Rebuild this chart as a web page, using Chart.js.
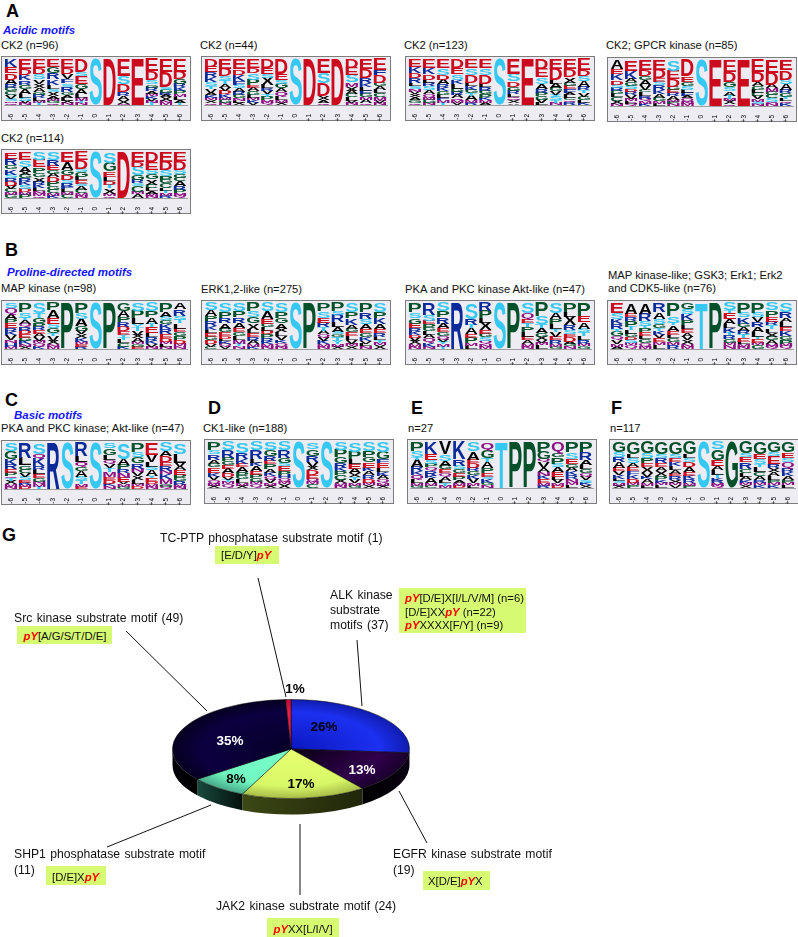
<!DOCTYPE html>
<html lang="en">
<head>
<meta charset="UTF-8">
<title>Phosphorylation motifs</title>
<script src="https://cdn.jsdelivr.net/npm/chart.js"></script>
<style>
    html, body { margin: 0; padding: 0; background: #fff; }
    #page { position: relative; width: 798px; height: 937px; overflow: hidden; font-family: "Liberation Sans", Arial, sans-serif; color: #111; }
    #page canvas { position: absolute; }
    .panel { position: absolute; box-sizing: border-box; background: #edecf2; border: 1.5px solid #7c7c7c; }
    .txt { position: absolute; white-space: nowrap; font-size: 11.2px; line-height: 12px; }
    .big { font-size: 18px; line-height: 18px; font-weight: bold; color: #000; }
    .head { font-size: 11.5px; font-weight: bold; font-style: italic; color: #1414ff; }
    .lab { font-size: 12.2px; word-spacing: 1px; line-height: 14px; }
    .mot { font-size: 11.3px; }
    .box { position: absolute; background: #d6fb72; }
    .pct { position: absolute; font-size: 13.5px; font-weight: bold; line-height: 14px; transform: translate(-50%, -50%); }
    .py { color: #f00; font-weight: bold; font-style: italic; }
    svg { position: absolute; left: 0; top: 0; }
</style>
</head>
<body>
<div id="page"></div>
<script>
    // positions around the phospho site
    const positions = ['-6', '-5', '-4', '-3', '-2', '-1', '0', '+1', '+2', '+3', '+4', '+5', '+6'];

    // logo columns, residues listed top to bottom with their stack height
    const ck2a = ['K9 E7 D7 A5 R4 G4 C4 V4 S3 M2 Q2', 'E9 D6 K5 R4 G4 A5 L3 S3 V2 N2', 'E9 D6 S5 V4 X4 A4 G3 R3 L3 M2 T2', 'E8 G6 R6 K5 L4 S3 X4 A3 M2 G2 Q2', 'E9 D6 V5 F4 S3 R5 G3 A3 L3 X2 N2', 'D12 S4 E7 G5 A5 L3 M3 T2 N2', 'S46', 'D46', 'E17 S8 D8 R4 A4 X4 M1', 'E46', 'E12 D9 S4 G3 R3 A3 M2 K3 V2 N2 T2', 'E12 D14 S2 G3 R2 A2 X3 N2 M2', 'E11 D6 G4 R3 K3 P3 M2 L3 A2 T2'];
    const ck2b = ['D8 E6 R5 K5 S4 T3 V4 A3 K3 M2 X3 Q2', 'E9 D7 S4 T3 A4 V3 D3 K3 M2 G3 N2', 'E9 D5 K6 F3 S3 A3 R3 G3 N2 L2 X2', 'E8 D4 S6 P5 E2 A3 G3 L3 M2 K2 V2', 'D8 E5 S3 X6 L3 R2 V3 T2 P3 M2 Q2', 'D13 E5 S3 G4 A3 Q4 L3 M2 X2', 'S46', 'D46', 'E14 S10 D12 X4 A3 Q2', 'D46', 'D8 E7 S7 M4 X4 A3 C3 L3 V2 N2', 'E9 D8 R5 K4 L3 F3 G3 M2 A3 Q2', 'E10 F5 D7 G3 A3 L3 C4 M3 V2 N2'];
    const ck2c = ['E8 K7 D5 R5 L3 S3 N3 V3 X3 A3 G3 Q2', 'E8 K6 D5 L3 R3 S3 A4 Q3 M2 G3 N2', 'E8 S6 D4 A4 R3 K3 G3 L3 F2 M2 T2', 'D8 E6 S5 K4 L4 G3 R3 A3 Q2 M2 V2', 'E8 S6 D6 L3 K3 G3 T2 A4 M2 R2', 'E8 S6 D7 L3 R3 G3 P3 K2 M2 A2', 'S46', 'E17 S8 D6 G4 R4 L3 Q2 M2 X3 A2', 'E46', 'D9 E8 S6 A5 R4 P3 G3 V3 L2', 'E9 D10 L3 A4 G3 V3 Y2 S3 T2 N2', 'E9 D7 X5 G3 E3 F3 A2 L3 C2 Q2 R2', 'E9 D5 S4 A5 R3 T2 V3 G3 L2 K2'];
    const ck2Gpcr = ['A8 E5 K6 D4 S3 R3 G3 L3 C3 X3 N2', 'E9 K7 A3 G3 S3 D2 R3 V3 M2 L2 Q2', 'E8 D5 G3 A4 V4 C2 L3 R2 Q2 M2 K2', 'E8 D7 E3 S3 R4 K3 A3 G3 M2 L2', 'S10 E8 D7 G3 E3 R3 A3 M2 P2 N2', 'D15 E5 G4 S3 L3 F3 A2 Q3 N2 M2', 'S46', 'E46', 'E11 D10 G5 S4 A4 T3 M2 X3 Q2', 'E46', 'E11 D9 A4 G3 L3 C3 V3 M2 S2 N2', 'E12 D11 A3 M3 G3 C3 S3 Q2 N2', 'E9 D8 S4 A5 R3 G3 T2 L2 Q2 K2'];
    const ck2d = ['E6 R6 G4 K5 S3 R3 D4 V3 C3 M2 G3', 'E7 S6 A4 X3 G3 R3 K3 S3 D3 M2 P3', 'S7 E7 P5 G4 X4 R3 K3 L3 N2 M2 Q2', 'S7 R5 E4 G3 A3 D4 P4 G3 C3 M2 K2', 'E9 A7 G4 D4 S3 R3 F2 L3 M2 C3', 'E7 D7 S3 G4 L3 E3 S2 A3 C3 M2 N2', 'S46', 'S10 G8 E5 L4 D4 T3 X5 M2 Q2', 'D46', 'E8 D4 S7 G4 R3 S2 C5 M2 A3', 'D9 E7 S4 G4 X5 C3 L3 A2 M2 N2', 'E8 D7 S5 P3 G3 C4 L2 T2 M2 R2', 'E8 D7 S4 G3 C3 A4 R3 P3 M2 Q2'];
    const mapKinase = ['S4 Q5 A4 P3 E4 R3 K3 V4 N2 H3 M2', 'P8 S5 T2 A3 Q3 R3 D3 E3 G3 K3 N2 X2', 'S9 T4 G4 P3 R3 E3 A3 V3 M2 Q3 K2', 'P6 A6 E5 S4 G4 T2 V4 X3 N2 M2', 'P46', 'P8 S5 A6 G4 V3 X3 K3 M2 E2 R2', 'S46', 'P46', 'G7 A5 P4 R4 D4 E3 Y2 T2 L3 C3 K2', 'S7 P6 L5 Y3 T3 V3 X3 A3 M2 G2 E2', 'S7 P5 A5 T3 E5 L3 R3 K3 V2 N2', 'P7 A4 S3 G3 K4 R4 E3 D3 M2 L2 N2', 'A5 R5 S3 T3 L4 E3 G3 P3 D3 M2 N2'];
    const erkLike = ['S6 A5 P4 R4 K3 L3 E3 G3 D3 V2 C2', 'S7 P5 R4 A4 G3 E3 D2 L2 K2 Q2 V2', 'S6 P5 R4 A4 E3 G3 L3 M3 T2 N2', 'P7 S5 G5 X5 L3 E3 R3 A3 M2 K2', 'S7 A6 E4 G3 L3 D3 P3 R3 K2 M2 N2', 'S7 P5 G4 A4 X3 L3 V3 K2 Q3 N2', 'S46', 'P46', 'P7 S6 E4 R4 T3 A3 Q3 V3 K3 M2 N2', 'P7 S3 R6 L4 A4 S2 G2 T3 Y3 M2 X2', 'S7 P5 K5 A3 G3 E3 L3 V3 M2 X2', 'P7 R5 S4 A4 E3 G3 K3 V2 L2 N2', 'S7 P5 K5 A4 E3 R3 L3 T2 M2 X3'];
    const pkaAkt = ['P8 S5 G5 E4 R3 K3 D2 V3 X3 M2 N2', 'R10 S5 E3 P3 G3 L3 A3 Q4 K3 N2', 'S7 P5 R5 A4 E3 G3 Q3 V2 Y2 M2 T2', 'R46', 'S14 R5 T3 A5 E3 P5 M2 L3', 'R7 P6 L4 X6 E3 G3 S3 Q3 N2 M2', 'S46', 'P46', 'S8 Q5 E3 T3 P4 L4 E3 A3 M2 N2', 'P11 S6 T3 A4 G3 X3 V2 M2 L3', 'S8 A5 P4 L4 T2 V4 E3 R3 M2 G2', 'P7 L4 X7 R4 S3 E2 D4 A2 G2 N2', 'P10 E5 A5 S3 T3 L3 R3 M2 G2'];
    const mapLike = ['E8 S5 K4 R4 T2 G4 Q3 V3 M2 A2', 'A9 E3 R3 P5 T3 L3 G3 D2 S3 M2 Q3', 'A9 R6 S4 T2 P3 E3 L3 G3 Q3 M2', 'R7 A5 S4 G3 T2 K3 V3 E3 M2 L3', 'P10 S5 T2 A4 E3 L3 G3 M2 R3', 'G5 S4 K5 P4 L3 E3 A3 V3 X3 N2 M2', 'T46', 'P46', 'S6 T2 E5 A4 L3 K4 T2 R3 G3 M2 N3', 'P8 S4 K5 G3 A3 R3 T3 E3 L2 M2 N2', 'P8 S4 V4 R4 A4 L4 T2 E3 M2 G3', 'S6 P5 E4 R3 T3 L3 X3 G3 A3 M2 Q2', 'S7 R5 A3 L4 E3 K4 G3 P3 M2 Q2'];
    const basicAkt = ['S7 G7 K5 R4 E3 P3 Q2 T2 X3 M2 N2', 'R14 L7 G4 C3 V4 S3 E2 R2 M2 D2', 'S9 Q4 K6 R3 L4 E3 G3 N2 M2 T2', 'R46', 'S46', 'R11 L5 Q4 G3 A5 S3 T3 M2 E2', 'S46', 'S4 G5 L4 Q3 V3 T3 M4 E2 D3 K2 N2', 'S14 A5 P4 R3 N4 E4 V2 M2 G2', 'P7 S4 G5 R4 N3 V3 X3 L3 M2 D2', 'E10 V6 L4 S3 A5 Y2 E3 D2 M2 N2', 'S7 A4 D5 E3 R4 N3 K4 M4 G2 Q2', 'S10 L8 V4 A3 E4 P3 G3 R3 M2 N2'];
    const ck1Like = ['P7 S4 R5 A4 G3 E5 K4 V3 Q3 M2 X2', 'S7 R6 P3 G3 E3 A4 D3 V2 T2 M2 Q3', 'S9 R5 K4 E3 A4 P3 G3 L3 M2 X2', 'S7 R7 L3 K3 A4 E3 P3 G3 M2 Q3', 'S7 G5 R4 E3 P4 A3 K3 Q3 V3 M2 X2', 'S7 R6 G4 S3 E4 P3 H3 Q3 M2 X3', 'S46', 'S6 G6 R5 V4 X3 D4 E3 Q3 M2 C3', 'S46', 'S7 P6 G5 R4 K3 P3 C4 X3 M2 N2', 'S8 P6 L4 E4 A4 X3 T2 V3 M2 G2', 'S7 P5 G4 E4 K3 A3 R3 D3 M2 X2', 'S8 G6 F3 E4 L3 K3 A3 Q3 M2 X2'];
    const motifE = ['P8 S5 T2 A6 R4 K3 Q4 L3 M2 G2', 'K10 E5 S3 P3 Q3 R4 K2 A4 M2 C2', 'V10 S5 A4 G3 E3 Q3 A3 L2 T2 M2', 'K14 R5 S3 G3 E3 P3 A2 M2 D2', 'S8 A7 E3 D4 R3 G3 K3 V4 M2 L2', 'Q7 G6 T3 A5 P4 E3 S2 K3 G2 N2', 'T46', 'P46', 'P46', 'P8 G6 Q2 V5 A3 N3 K3 E3 M2 R2', 'Q10 G3 P6 S3 A4 E4 L3 V3 M2 D2', 'P8 S5 E4 G3 A3 K3 R3 N3 M2 L2', 'P8 R6 A4 L3 G3 Q3 V3 S2 K2 X2'];
    const motifF = ['G9 S4 R4 A5 E3 V3 K3 L2 S2 M2 X2', 'G9 L3 S4 A3 E3 F3 K3 D3 M2 P2', 'G9 S4 P4 E3 X5 V3 K2 A3 M2 L2', 'G9 S3 R4 E3 A3 X4 P3 K2 M2 L2', 'G9 S3 E3 K3 L3 A3 E2 R3 X2 M2 V2', 'G10 L3 S3 D4 A4 E3 K3 R3 M2 P2', 'S46', 'S6 G9 E5 A3 L4 T3 K2 R2 M2 Q2', 'G46', 'G9 S3 E4 R5 C3 L3 A3 K2 M2 X2', 'G9 E4 S4 T2 L4 C3 A3 R2 M2 K2', 'G8 S3 E6 R3 X3 A3 L3 P2 M2 K2', 'G8 E4 S3 Q5 R3 K3 A3 P2 M2 L2'];

    // pie: number of phosphotyrosine sites per motif class
    const pieLabels = ['ALK', 'EGFR', 'JAK2', 'SHP1', 'Src', 'TC-PTP'];
    const pieCounts = [37, 19, 24, 11, 49, 1];
    const pieText = ['26%', '13%', '17%', '8%', '35%', '1%'];

    const red = '#cc0a1e', cyan = '#35c8f2', blue = '#0a2a9a', green = '#00502a', purple = '#8c1080', black = '#000';
    const residueColor = {
        E: red, D: red, S: cyan, T: cyan, Y: cyan, K: blue, R: blue, H: blue, F: blue,
        P: green, G: green, C: green, Q: purple, N: purple, M: purple,
        A: black, L: black, V: black, I: black, X: black
    };

    Chart.defaults.font.family = '"Liberation Sans", Arial, sans-serif';
    Chart.defaults.animation = false;
    Chart.defaults.events = [];
    Chart.defaults.plugins.legend.display = false;
    Chart.defaults.plugins.tooltip.enabled = false;

    const page = document.getElementById('page');

    function addText(x, yc, html, cls) {
        const d = document.createElement('div');
        d.className = 'txt ' + (cls || '');
        d.innerHTML = html;
        d.style.left = x + 'px';
        page.appendChild(d);
        d.style.top = (yc - d.offsetHeight / 2) + 'px';
    }

    function addBox(x0, y0, x1, y1) {
        const d = document.createElement('div');
        d.className = 'box';
        d.style.cssText = `left:${x0}px;top:${y0}px;width:${x1 - x0}px;height:${y1 - y0}px`;
        page.appendChild(d);
    }

    // draws each stacked bar as a letter stretched to the bar's box
    const letterPlugin = {
        id: 'letters',
        afterDatasetsDraw(chart) {
            const ctx = chart.ctx;
            chart.data.datasets.forEach((ds, i) => {
                chart.getDatasetMeta(i).data.forEach((bar, j) => {
                    const ch = ds.letters[j];
                    const h = bar.base - bar.y;
                    if (!ch || h < 0.3) return;
                    ctx.save();
                    ctx.font = 'bold 100px "Liberation Sans"';
                    const m = ctx.measureText(ch);
                    const gw = m.actualBoundingBoxLeft + m.actualBoundingBoxRight;
                    const gh = m.actualBoundingBoxAscent + m.actualBoundingBoxDescent;
                    ctx.translate(bar.x - bar.width / 2, bar.y);
                    ctx.scale(bar.width / gw, h / gh);
                    ctx.fillStyle = residueColor[ch];
                    ctx.fillText(ch, m.actualBoundingBoxLeft, m.actualBoundingBoxAscent);
                    ctx.restore();
                });
            });
        }
    };

    function addLogo(cols, x, y) {
        const panel = document.createElement('div');
        panel.className = 'panel';
        panel.style.cssText = `left:${x}px;top:${y}px;width:190px;height:65px`;
        page.appendChild(panel);

        const cv = document.createElement('canvas');
        cv.width = 190;
        cv.height = 65;
        cv.style.left = x + 'px';
        cv.style.top = y + 'px';
        page.appendChild(cv);

        const parsed = cols.map(c => c.split(' ').map(t => [t[0], +t.slice(1)]).reverse());
        const totals = parsed.map(col => col.reduce((s, t) => s + t[1], 0));
        const depth = Math.max(...parsed.map(col => col.length));
        const datasets = [];
        for (let r = 0; r < depth; r++) {
            datasets.push({
                data: parsed.map((col, j) => col[r] ? col[r][1] / totals[j] : 0),
                letters: parsed.map(col => col[r] ? col[r][0] : ''),
                backgroundColor: 'transparent',
                barPercentage: 0.88,
                categoryPercentage: 1
            });
        }
        new Chart(cv, {
            type: 'bar',
            data: { labels: positions, datasets },
            plugins: [letterPlugin],
            options: {
                responsive: false,
                layout: { padding: { top: 3, left: 3, right: 4, bottom: 0 } },
                scales: {
                    x: {
                        stacked: true,
                        grid: { display: false },
                        border: { color: '#8a8a8a', width: 0.8 },
                        afterFit: s => { s.height = 16; },
                        ticks: { autoSkip: false, minRotation: 90, maxRotation: 90, padding: 1, color: '#000', font: { size: 6.5 } }
                    },
                    y: { stacked: true, display: false, min: 0, max: 1 }
                }
            }
        });
    }

    // panel letters and headings
    addText(6, 10.5, 'A', 'big');
    addText(3, 30, 'Acidic motifs', 'head');
    addText(5, 250, 'B', 'big');
    addText(7, 272, 'Proline-directed motifs', 'head');
    addText(5, 400, 'C', 'big');
    addText(14, 415, 'Basic motifs', 'head');
    addText(208, 408, 'D', 'big');
    addText(411, 408, 'E', 'big');
    addText(611, 408, 'F', 'big');
    addText(2, 535, 'G', 'big');

    // logos
    addText(1, 45, 'CK2 (n=96)');
    addLogo(ck2a, 1, 56);
    addText(200, 45, 'CK2 (n=44)');
    addLogo(ck2b, 201, 56);
    addText(404, 45, 'CK2 (n=123)');
    addLogo(ck2c, 405, 56);
    addText(606, 45, 'CK2; GPCR kinase (n=85)');
    addLogo(ck2Gpcr, 607, 57);
    addText(1, 138, 'CK2 (n=114)');
    addLogo(ck2d, 1, 149);

    addText(1, 288, 'MAP kinase (n=98)');
    addLogo(mapKinase, 1, 300);
    addText(201, 289, 'ERK1,2-like (n=275)');
    addLogo(erkLike, 201, 300);
    addText(405, 289, 'PKA and PKC kinase Akt-like (n=47)');
    addLogo(pkaAkt, 405, 300);
    addText(608, 275, 'MAP kinase-like; GSK3; Erk1; Erk2');
    addText(608, 288, 'and CDK5-like (n=76)');
    addLogo(mapLike, 607, 300);

    addText(1, 428, 'PKA and PKC kinase; Akt-like (n=47)');
    addLogo(basicAkt, 1, 440);
    addText(203, 428, 'CK1-like (n=188)');
    addLogo(ck1Like, 204, 439);
    addText(408, 428, 'n=27');
    addLogo(motifE, 407, 439);
    addText(610, 428, 'n=117');
    addLogo(motifF, 609, 439);

    // leader lines of the pie
    const svgNS = 'http://www.w3.org/2000/svg';
    const svg = document.createElementNS(svgNS, 'svg');
    svg.setAttribute('width', 798);
    svg.setAttribute('height', 937);
    [[258, 578, 286, 697], [357, 640, 362, 706], [126, 631, 207, 711], [211, 805, 107, 847], [300, 824, 300, 895], [399, 791, 427, 843]].forEach(l => {
        const line = document.createElementNS(svgNS, 'line');
        line.setAttribute('x1', l[0]);
        line.setAttribute('y1', l[1]);
        line.setAttribute('x2', l[2]);
        line.setAttribute('y2', l[3]);
        line.setAttribute('stroke', '#111');
        line.setAttribute('stroke-width', 1);
        svg.appendChild(line);
    });
    page.appendChild(svg);

    // pie labels
    const py = '<span class="py">pY</span>';
    addText(160, 538, 'TC-PTP phosphatase substrate motif (1)', 'lab');
    addBox(215, 546, 279, 564);
    addText(221, 555, '[E/D/Y]' + py, 'mot');
    addText(330, 595, 'ALK kinase', 'lab');
    addText(330, 610, 'substrate', 'lab');
    addText(330, 625, 'motifs (37)', 'lab');
    addBox(399, 588, 526, 633);
    addText(405, 598, py + '[D/E]X[I/L/V/M] (n=6)', 'mot');
    addText(405, 611.5, '[D/E]XX' + py + ' (n=22)', 'mot');
    addText(405, 625, py + 'XXXX[F/Y] (n=9)', 'mot');
    addText(14, 618, 'Src kinase substrate motif (49)', 'lab');
    addBox(17, 626, 112, 644);
    addText(23.5, 636, py + '[A/G/S/T/D/E]', 'mot');
    addText(14, 854, 'SHP1 phosphatase substrate motif', 'lab');
    addText(14, 870, '(11)', 'lab');
    addBox(46, 866, 106, 885);
    addText(52, 877, '[D/E]X' + py, 'mot');
    addText(393, 854, 'EGFR kinase substrate motif', 'lab');
    addText(393, 870, '(19)', 'lab');
    addBox(422.5, 871, 490, 890);
    addText(428, 881, 'X[D/E]' + py + 'X', 'mot');
    addText(216, 906, 'JAK2 kinase substrate motif (24)', 'lab');
    addBox(267, 918, 338.5, 937);
    addText(273.5, 929, py + 'XX[L/I/V]', 'mot');

    // pie with a tilted top and an extruded rim
    const pieRadius = 118.5, pieSquash = 49.5 / 118.5, pieDepth = 16;
    const pieCv = document.createElement('canvas');
    pieCv.width = 260;
    pieCv.height = 260;
    pieCv.style.left = '160.7px';
    pieCv.style.top = '618.5px';
    page.appendChild(pieCv);
    const pieCtx = pieCv.getContext('2d');

    const topStops = [
        ['#0a18c0', '#1c30f0', '#101cae'],
        ['#0a0014', '#30004c', '#1a002c'],
        ['#e8ff70', '#d8f868', '#a8bc48'],
        ['#78ffc8', '#70f8c0', '#48a888'],
        ['#060028', '#0c0040', '#050020'],
        ['#e01038', '#f02040', '#c00830']
    ];
    const wallStops = [
        ['#000000', '#000000'],
        ['#000000', '#0a0012'],
        ['#3c4814', '#20260a'],
        ['#1a4a3e', '#04100c'],
        ['#020008', '#000000'],
        ['#000000', '#000000']
    ];
    const sliceFill = topStops.map(s => {
        const g = pieCtx.createRadialGradient(130, 130, 0, 130, 130, pieRadius);
        g.addColorStop(0, s[0]);
        g.addColorStop(0.75, s[1]);
        g.addColorStop(1, s[2]);
        return g;
    });

    const tiltPlugin = {
        id: 'tilt',
        beforeDatasetsDraw(chart) {
            const ctx = chart.ctx;
            const arcs = chart.getDatasetMeta(0).data;
            const cx = arcs[0].x, cy = arcs[0].y;
            const d = pieDepth / pieSquash;
            ctx.save();
            ctx.translate(cx, cy);
            ctx.scale(1, pieSquash);
            arcs.forEach((a, i) => {
                const a0 = Math.max(a.startAngle, 0), a1 = Math.min(a.endAngle, Math.PI);
                if (a0 >= a1) return;
                const x0 = Math.cos(a0) * a.outerRadius, x1 = Math.cos(a1) * a.outerRadius;
                const g = ctx.createLinearGradient(x1, 0, x0, 0);
                g.addColorStop(0, wallStops[i][0]);
                g.addColorStop(1, wallStops[i][1]);
                ctx.beginPath();
                ctx.arc(0, d, a.outerRadius, a0, a1);
                ctx.arc(0, 0, a.outerRadius, a1, a0, true);
                ctx.closePath();
                ctx.fillStyle = g;
                ctx.fill();
            });
            ctx.translate(-cx, -cy);
        },
        afterDatasetsDraw(chart) {
            chart.ctx.restore();
        }
    };

    new Chart(pieCv, {
        type: 'pie',
        data: {
            labels: pieLabels,
            datasets: [{ data: pieCounts, backgroundColor: sliceFill, borderColor: '#000', borderWidth: 0.7 }]
        },
        plugins: [tiltPlugin],
        options: { responsive: false, radius: pieRadius }
    });

    [[324, 727, '#000'], [362, 770, '#fff'], [301, 784, '#000'], [236, 779, '#000'], [230, 741, '#fff'], [295, 689, '#000']].forEach((p, i) => {
        const d = document.createElement('div');
        d.className = 'pct';
        d.textContent = pieText[i];
        d.style.cssText = `left:${p[0]}px;top:${p[1]}px;color:${p[2]}`;
        page.appendChild(d);
    });
</script>
</body>
</html>
